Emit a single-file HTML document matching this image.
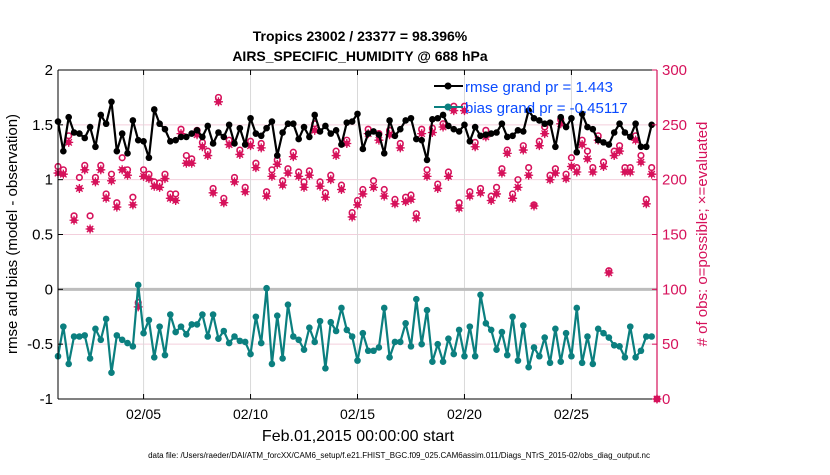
<!DOCTYPE html>
<html><head><meta charset="utf-8">
<style>
html,body{margin:0;padding:0;background:#fff;}
body{width:830px;height:470px;overflow:hidden;font-family:"Liberation Sans",sans-serif;}
</style></head>
<body>
<svg id="chart" width="830" height="470" viewBox="0 0 830 470" xmlns="http://www.w3.org/2000/svg" font-family="Liberation Sans, sans-serif">
<g id="grid"></g>
<g id="series"></g>
<g id="axes"></g>
<text x="360" y="41" text-anchor="middle" font-size="14" font-weight="bold">Tropics 23002 / 23377 = 98.396%</text>
<text x="360" y="61" text-anchor="middle" font-size="14" font-weight="bold">AIRS_SPECIFIC_HUMIDITY @ 688 hPa</text>
<text x="358" y="441" text-anchor="middle" font-size="16">Feb.01,2015 00:00:00 start</text>
<text x="399" y="458" text-anchor="middle" font-size="8">data file: /Users/raeder/DAI/ATM_forcXX/CAM6_setup/f.e21.FHIST_BGC.f09_025.CAM6assim.011/Diags_NTrS_2015-02/obs_diag_output.nc</text>
<text transform="translate(17,234) rotate(-90)" text-anchor="middle" font-size="15">rmse and bias (model - observation)</text>
<text transform="translate(707,234) rotate(-90)" text-anchor="middle" font-size="15" fill="#d6125b"># of obs: o=possible; ×=evaluated</text>
<g>
<line x1="434" y1="86" x2="463" y2="86" stroke="#000" stroke-width="2"/>
<circle cx="448" cy="86" r="3.5" fill="#000"/>
<text x="465" y="92" font-size="15" fill="#0a4bff">rmse grand pr = 1.443</text>
<line x1="434" y1="107" x2="463" y2="107" stroke="#0b7f7f" stroke-width="2"/>
<circle cx="448" cy="107" r="3.5" fill="#0b7f7f"/>
<text x="465" y="113" font-size="15" fill="#0a4bff">bias grand pr = -0.45117</text>
</g>
</svg>
<script>
const rmse=[1.53,1.26,1.57,1.43,1.42,1.38,1.48,1.30,1.59,1.51,1.71,1.26,1.42,1.24,1.54,1.36,1.35,1.20,1.64,1.51,1.46,1.35,1.36,1.39,1.39,1.42,1.45,1.39,1.49,1.33,1.43,1.39,
1.50,1.33,1.47,1.32,1.56,1.42,1.40,1.47,1.53,1.22,1.43,1.51,1.51,1.37,1.48,1.39,1.59,1.44,1.49,1.42,1.45,1.32,1.52,1.53,1.60,1.28,1.42,1.44,1.41,1.24,1.54,
1.40,1.46,1.54,1.56,1.37,1.36,1.18,1.55,1.56,1.59,1.49,1.46,1.44,1.50,1.35,1.48,1.40,1.41,1.42,1.43,1.51,1.39,1.40,1.45,1.44,1.63,1.56,1.54,1.51,1.52,1.30,
1.57,1.48,1.56,1.25,1.60,1.48,1.46,1.36,1.34,1.32,1.43,1.51,1.43,1.39,1.51,1.30,1.30,1.50];
const bias=[-0.61,-0.34,-0.68,-0.43,-0.43,-0.42,-0.63,-0.36,-0.46,-0.27,-0.76,-0.42,-0.46,-0.49,-0.52,0.04,-0.40,-0.28,-0.62,-0.34,-0.60,-0.23,-0.39,-0.34,-0.41,-0.32,-0.32,-0.23,-0.43,-0.23,-0.45,-0.38,
-0.49,-0.43,-0.47,-0.48,-0.59,-0.25,-0.49,0.01,-0.68,-0.24,-0.63,-0.14,-0.43,-0.46,-0.55,-0.35,-0.48,-0.29,-0.72,-0.30,-0.38,-0.17,-0.37,-0.43,-0.65,-0.40,-0.56,-0.56,-0.53,-0.17,-0.62,
-0.48,-0.48,-0.31,-0.52,-0.09,-0.50,-0.19,-0.66,-0.50,-0.66,-0.45,-0.59,-0.37,-0.61,-0.34,-0.61,-0.05,-0.31,-0.37,-0.55,-0.39,-0.60,-0.25,-0.65,-0.33,-0.71,-0.53,-0.61,-0.44,-0.67,-0.36,
-0.66,-0.40,-0.61,-0.17,-0.67,-0.43,-0.68,-0.36,-0.40,-0.44,-0.51,-0.52,-0.62,-0.34,-0.62,-0.56,-0.43,-0.43];
const evaluated=[206,205,234,163,192,209,155,198,209,183,199,175,209,204,177,84,203,201,194,193,201,183,181,242,215,215,241,230,222,188,271,179,
232,198,223,189,231,211,229,185,203,214,195,206,221,203,193,204,245,194,184,200,222,191,233,166,177,187,242,193,236,185,241,
178,229,180,182,165,242,203,243,192,248,203,263,174,263,185,230,188,239,181,187,206,224,183,193,227,204,176,231,242,200,206,
251,201,212,207,232,219,207,236,212,115,222,226,207,207,236,216,178,205,0];
const possible=[212,209,240,167,202,213,167,202,213,187,205,179,220,209,184,88,209,205,198,197,205,187,187,246,222,219,245,234,226,192,275,183,
236,202,227,193,235,215,233,189,209,218,199,210,225,207,198,208,251,198,188,204,226,195,236,170,181,191,246,199,242,191,245,
182,233,184,186,169,246,209,247,196,251,207,267,179,267,189,234,192,245,185,193,210,227,187,200,231,211,177,235,248,204,210,
255,205,220,211,236,226,211,240,216,117,226,231,211,211,240,222,182,211,0];
const xTickDays=[4,9,14,19,24];
const xTickLabels=["02/05","02/10","02/15","02/20","02/25"];
const leftTicks=[-1,-0.5,0,0.5,1,1.5,2];
const leftTickLabels=["-1","-0.5","0","0.5","1","1.5","2"];
const rightTicks=[0,50,100,150,200,250,300];

const L=58,R=657,T=70,B=399,PINK="#d6125b",TEAL="#0b7f7f";
const NS="http://www.w3.org/2000/svg";
const xS=d=>L+(d/28)*(R-L);
const yL=v=>B-(v+1)/3*(B-T);
const yR=c=>B-c/300*(B-T);
function mk(tag,attrs,parent){const e=document.createElementNS(NS,tag);for(const k in attrs)e.setAttribute(k,attrs[k]);parent.appendChild(e);return e;}
const grid=document.getElementById('grid'),ser=document.getElementById('series'),ax=document.getElementById('axes');

rightTicks.forEach(c=>{if(c===0||c===300)return;
 const g=mk('line',{x1:L,x2:R,y1:yR(c),y2:yR(c),stroke:'#f3cfdc','stroke-width':1},grid);
 
 });
xTickDays.forEach(d=>{
 const g=mk('line',{x1:xS(d),x2:xS(d),y1:T,y2:B,stroke:'#d9d9d9','stroke-width':1},grid);
 
 });
const z=mk('line',{x1:L,x2:R,y1:yL(0),y2:yL(0),stroke:'#bdbdbd','stroke-width':3},grid);



const t=i=>xS(i*0.25);
function poly(vals,color,name){
 const pts=vals.map((v,i)=>t(i)+','+yL(v)).join(' ');
 const p=mk('polyline',{points:pts,fill:'none',stroke:color,'stroke-width':2.2,'stroke-linejoin':'round'},ser);
 
 
 vals.forEach((v,i)=>{const c=mk('circle',{cx:t(i),cy:yL(v),r:3.3,fill:color},ser);
  
  });
}
possible.forEach((c,i)=>{
 const o=mk('circle',{cx:t(i),cy:yR(c),r:2.8,fill:'none',stroke:PINK,'stroke-width':1.6},ser);
 
 });
evaluated.forEach((c,i)=>{
 const x=t(i),y=yR(c);
 const g=mk('g',{},ser);
 
 
 mk('circle',{cx:x,cy:y,r:3,fill:PINK},g);
 mk('path',{d:`M${x-4.5},${y}H${x+4.5}M${x},${y-4.5}V${y+4.5}M${x-3.2},${y-3.2}L${x+3.2},${y+3.2}M${x-3.2},${y+3.2}L${x+3.2},${y-3.2}`,stroke:PINK,'stroke-width':1.3},g);
});
poly(rmse,'#000','rmse');
poly(bias,TEAL,'bias');

mk('line',{x1:L,x2:R,y1:T,y2:T,stroke:'#000','stroke-width':1},ax);
mk('line',{x1:L,x2:R,y1:B,y2:B,stroke:'#000','stroke-width':1},ax);
mk('line',{x1:L,x2:L,y1:T,y2:B,stroke:'#000','stroke-width':1},ax);
mk('line',{x1:R,x2:R,y1:T,y2:B,stroke:PINK,'stroke-width':1.2},ax);
xTickDays.forEach((d,i)=>{
 mk('line',{x1:xS(d),x2:xS(d),y1:B,y2:B-5,stroke:'#000'},ax);
 mk('line',{x1:xS(d),x2:xS(d),y1:T,y2:T+5,stroke:'#000'},ax);
 const tx=mk('text',{x:xS(d),y:B+20,'text-anchor':'middle','font-size':14},ax);
 tx.textContent=xTickLabels[i];
 
 });
leftTicks.forEach((v,i)=>{
 mk('line',{x1:L,x2:L+5,y1:yL(v),y2:yL(v),stroke:'#000'},ax);
 const tx=mk('text',{x:L-5,y:yL(v)+5,'text-anchor':'end','font-size':15},ax);
 tx.textContent=leftTickLabels[i];
 
 });
rightTicks.forEach(c=>{
 mk('line',{x1:R-5,x2:R,y1:yR(c),y2:yR(c),stroke:PINK},ax);
 const tx=mk('text',{x:R+5,y:yR(c)+5,'font-size':15,fill:PINK},ax);
 tx.textContent=String(c);
 
 });
</script>
</body></html>
